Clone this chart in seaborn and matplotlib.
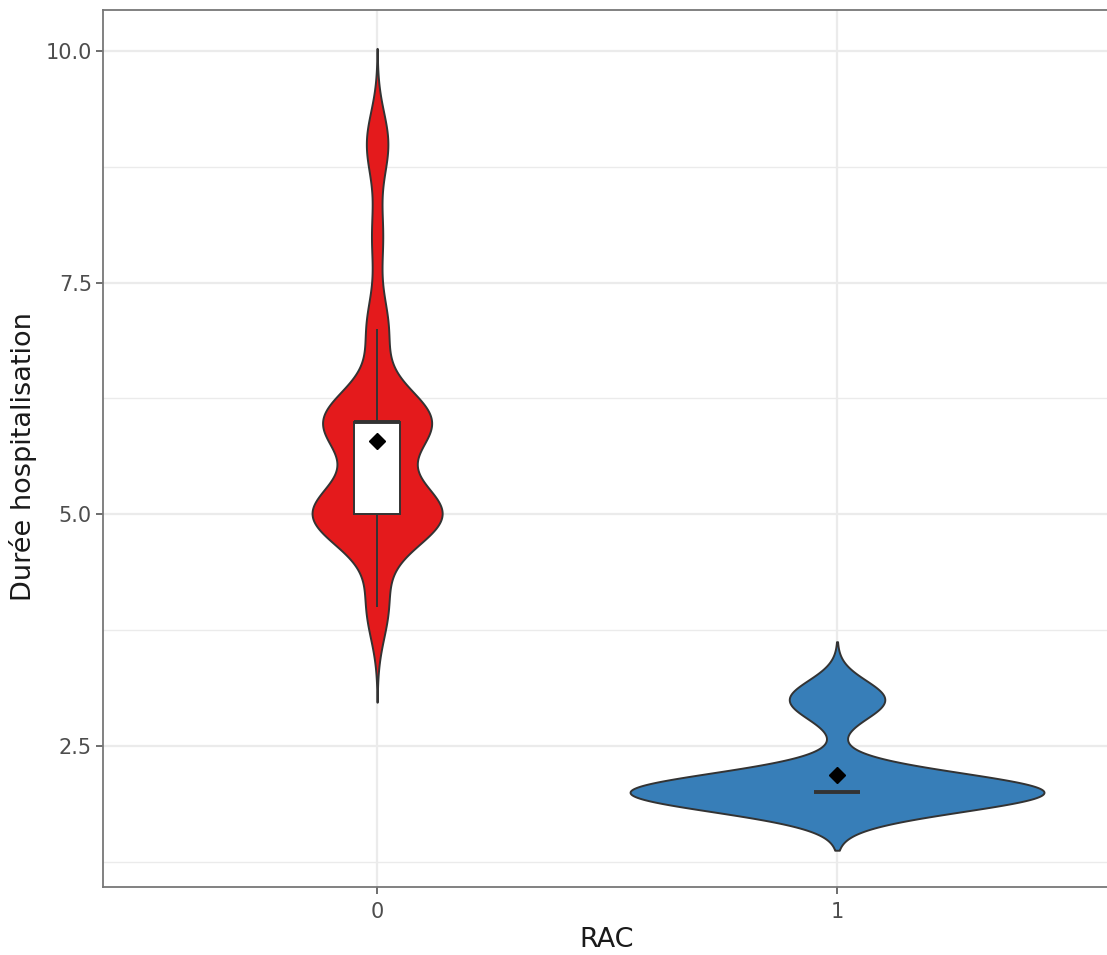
import numpy as np
import pandas as pd
import matplotlib
matplotlib.use("Agg")
import matplotlib.pyplot as plt
from matplotlib.ticker import MultipleLocator
import seaborn as sns

# hospital stay (days) and number of patients per value, by RAC group
stay_rac0 = [4, 5, 6, 7, 8, 9]
count_rac0 = [2, 12, 10, 2, 1, 2]
stay_rac1 = [2, 3]
count_rac1 = [13, 3]
groups = ["0", "1"]
colors = ["#E41A1C", "#377EB8"]

df = pd.concat([
    pd.DataFrame({"RAC": "0", "duree": np.repeat(stay_rac0, count_rac0)}),
    pd.DataFrame({"RAC": "1", "duree": np.repeat(stay_rac1, count_rac1)}),
])


def nrd0(kde):
    # R's default bandwidth (bw.nrd0), returned as a factor of the sd
    x = kde.dataset.ravel()
    sd = np.std(x, ddof=1)
    iqr = np.subtract(*np.percentile(x, [75, 25]))
    lo = min(sd, iqr / 1.34)
    if lo == 0:
        lo = sd
    return 0.9 * lo * len(x) ** -0.2 / sd


sns.set_style("white")
plt.rcParams["font.family"] = ["DejaVu Sans"]

fig = plt.figure(figsize=(11.07, 9.55), dpi=100)
ax = fig.add_axes([103 / 1107, 68 / 955, 1 - 103 / 1107, 877 / 955])

sns.violinplot(data=df, x="RAC", y="duree", hue="RAC", order=groups,
               hue_order=groups, palette=colors, legend=False, inner=None,
               density_norm="area", common_norm=True, bw_method=nrd0, cut=3,
               gridsize=512, width=0.9, linewidth=1.4, linecolor="#333333",
               saturation=1, ax=ax)
sns.boxplot(data=df, x="RAC", y="duree", order=groups, width=0.1,
            color="white", linecolor="#333333", linewidth=1.4,
            showfliers=False, showcaps=False, showmeans=True,
            meanprops=dict(marker="D", markerfacecolor="black",
                           markeredgecolor="black", markersize=8),
            medianprops=dict(linewidth=2.8, color="#333333"),
            ax=ax)

ax.set_xlim(-0.596, 1.587)
ax.set_ylim(0.978, 10.442)
ax.yaxis.set_major_locator(MultipleLocator(2.5))
ax.yaxis.set_minor_locator(MultipleLocator(1.25))
ax.set_yticks([2.5, 5.0, 7.5, 10.0])
ax.set_yticklabels(["2.5", "5.0", "7.5", "10.0"])
ax.set_axisbelow(True)
ax.grid(which="major", color="#EBEBEB", linewidth=1.6)
ax.grid(which="minor", axis="y", color="#EBEBEB", linewidth=1.0)

for side in ["left", "top", "bottom"]:
    ax.spines[side].set_color("#777777")
    ax.spines[side].set_linewidth(1.3)
ax.spines["right"].set_visible(False)

ax.tick_params(axis="both", which="major", length=5, width=1.2,
               color="#555555", labelcolor="#4D4D4D", labelsize=15,
               left=True, bottom=True)
ax.tick_params(axis="x", pad=6)
ax.tick_params(axis="y", pad=3)
ax.tick_params(axis="y", which="minor", length=0)
ax.set_xlabel("RAC", fontsize=19.5, color="#1A1A1A")
ax.set_ylabel("Durée hospitalisation", fontsize=19.5, color="#1A1A1A")
ax.xaxis.set_label_coords(0.502, -0.046)
ax.yaxis.set_label_coords(-0.066, 0.491)

fig.savefig("out.png", dpi=100)
